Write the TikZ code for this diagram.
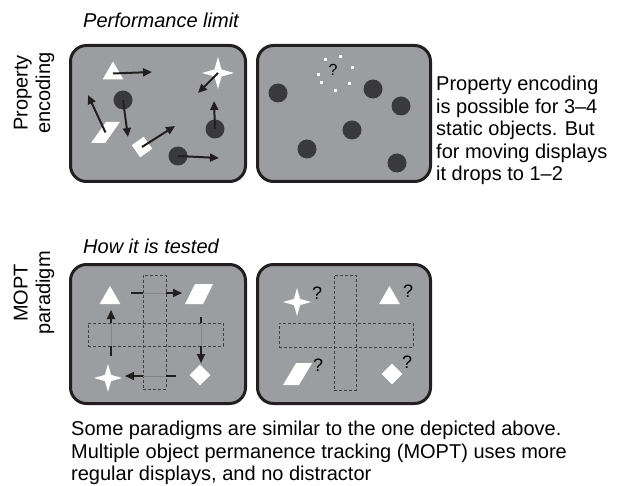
\documentclass[tikz,border=0pt]{standalone}
\usepackage{fontspec}
\setmainfont{Liberation Sans}
\usetikzlibrary{shapes.geometric, arrows.meta, positioning}
\definecolor{panelgray}{RGB}{156,157,160}
\definecolor{inkdark}{RGB}{35,31,32}
\definecolor{blobdark}{RGB}{58,58,60}

\begin{document}
\begin{tikzpicture}[
    x=1pt, y=-1pt,
    every node/.style={font=\fontsize{20}{22.5}\selectfont},
    heading/.style={anchor=base west, inner sep=0pt, font=\fontsize{20}{22.5}\selectfont\itshape},
    panel/.style={draw=inkdark, line width=3pt, fill=panelgray, rounded corners=16pt, inner sep=0pt},
    tri/.style={regular polygon, regular polygon sides=3, fill=white, inner sep=0pt, minimum size=24pt},
    sparkle/.style={star, star points=4, star point ratio=3.2, fill=white, inner sep=0pt, minimum size=30pt},
    diam/.style={diamond, fill=white, inner sep=0pt, minimum size=21pt},
    para/.style={rectangle, fill=white, inner sep=0pt, minimum width=14pt, minimum height=21pt, xslant=#1},
    para/.default=0.7,
    blob/.style={circle, fill=blobdark, inner sep=0pt, minimum size=19pt},
    wdot/.style={fill=white, inner sep=0pt, minimum size=3pt},
    occl/.style={draw=inkdark!85, line width=0.8pt, dash pattern=on 3pt off 2pt, inner sep=0pt},
    arr/.style={-{Triangle[length=9pt, width=8pt]}, line width=2pt, draw=inkdark},
    seg/.style={line width=2pt, draw=inkdark},
    trail/.style={line width=0.8pt, draw=inkdark!55},
    qmark/.style={font=\fontsize{18}{18}\selectfont, inner sep=0pt}
]
\useasboundingbox (0,0) rectangle (628,486);

% headings and side labels
\node[heading] (limit) at (83,28) {Performance limit};
\node[heading] (tested) at (83,253) {How it is tested};
\node[rotate=90, align=center] (lblprop) at (34,93) {Property\\encoding};
\node[rotate=90, align=center] (lblmopt) at (34,293) {MOPT\\paradigm};

% panels
\node[panel, minimum width=175pt, minimum height=136pt] (pA) at (158,113.5) {};
\node[panel, minimum width=173pt, minimum height=136pt] (pB) at (344,113.5) {};
\node[panel, minimum width=175pt, minimum height=139pt] (pC) at (158,334) {};
\node[panel, minimum width=173pt, minimum height=139pt] (pD) at (344,334) {};

% moving objects
\node[tri] (triA) at (113,73.5) {};
\node[sparkle, minimum size=32pt] (starA) at (218,73) {};
\node[blob] (blobA) at (123,100) {};
\node[para] (paraA) at (105.5,132.5) {};
\node[diam, rotate=-10] (diamA) at (142,147) {};
\node[blob] (blobB) at (215,129) {};
\node[blob] (blobC) at (178,156) {};
\coordinate (triAe) at (152,72);
\coordinate (starAe) at (198,93);
\coordinate (blobAe) at (128,137);
\coordinate (paraAe) at (88,95);
\coordinate (diamAe) at (175,126);
\coordinate (blobBe) at (214,101);
\coordinate (blobCe) at (219,158);
\draw[arr] (triA.center) -- (triAe);
\draw[arr] (starA.center) -- (starAe);
\draw[arr] (blobA.center) -- (blobAe);
\draw[arr] (paraA.center) -- (paraAe);
\draw[arr] (diamA.center) -- (diamAe);
\draw[arr] (blobB.center) -- (blobBe);
\draw[arr] (blobC.center) -- (blobCe);

% static objects, one property lost
\foreach \x/\y [count=\i] in {278/93, 373/89, 401/106, 352/130, 307/149, 397/163}
    \node[blob] (dot\i) at (\x,\y) {};
\foreach \x/\y [count=\i] in {325/60, 340/57, 352/68, 349/84, 335/91, 321/83, 318/75}
    \node[wdot] (spark\i) at (\x,\y) {};
\node[qmark, font=\fontsize{16}{16}\selectfont] (lost) at (333,70) {?};

\node[anchor=north west, align=left, inner sep=0pt] (note) at (436,76)
    {Property encoding\\is possible for 3–4\\static objects. But\\for moving displays\\it drops to 1–2};

% MOPT: objects move behind occluders
\node[occl, minimum width=23pt, minimum height=114pt] (vbarC) at (154.5,332) {};
\node[occl, minimum width=135pt, minimum height=23pt] (hbarC) at (155.5,334.5) {};
\node[tri] (triC) at (110,298) {};
\node[para=0.5, minimum width=18pt, minimum height=20pt] (paraC) at (199,294) {};
\node[sparkle, minimum size=28pt] (starC) at (108,378) {};
\node[diam] (diamC) at (200,375) {};

\coordinate (mvA) at (131,293);  \coordinate (mvAe) at (182,293);
\coordinate (mvB) at (201,317);  \coordinate (mvBe) at (201,363);
\coordinate (mvC) at (176,376);  \coordinate (mvCe) at (125,376);
\coordinate (mvD) at (111,356);  \coordinate (mvDe) at (111,310);
\draw[trail] (mvA) -- (mvAe);
\draw[trail] (mvB) -- (mvBe);
\draw[trail] (mvC) -- (mvCe);
\draw[trail] (mvD) -- (mvDe);
\draw[seg] (mvA) -- (mvA -| vbarC.west);
\draw[arr] (mvA -| vbarC.east) -- (mvAe);
\draw[seg] (mvB) -- (mvB |- hbarC.north);
\draw[arr] (mvB |- hbarC.south) -- (mvBe);
\draw[seg] (mvC) -- (mvC -| vbarC.east);
\draw[arr] (mvC -| vbarC.west) -- (mvCe);
\draw[seg] (mvD) -- (mvD |- hbarC.south);
\draw[arr] (mvD |- hbarC.north) -- (mvDe);

% MOPT: which object is where?
\node[occl, minimum width=22pt, minimum height=115pt] (vbarD) at (345,332.5) {};
\node[occl, minimum width=134pt, minimum height=24pt] (hbarD) at (346,335) {};
\node[sparkle, minimum size=28pt] (starD) at (297,302) {};
\node[tri] (triD) at (389.5,298) {};
\node[para=0.6, minimum width=16pt, minimum height=22pt] (paraD) at (297.5,374) {};
\node[diam] (diamD) at (392,374) {};
\node[qmark] (qstar) at (317,293) {?};
\node[qmark] (qtri) at (408,291) {?};
\node[qmark] (qpara) at (318,365) {?};
\node[qmark] (qdiam) at (407,362) {?};

\node[anchor=north west, align=left, inner sep=0pt] (caption) at (71,421)
    {Some paradigms are similar to the one depicted above.\\Multiple object permanence tracking (MOPT) uses more\\regular displays, and no distractor};

\end{tikzpicture}
\end{document}
